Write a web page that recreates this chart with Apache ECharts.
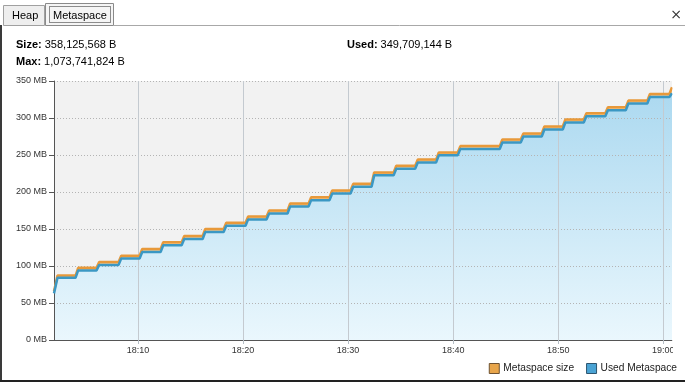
<!DOCTYPE html>
<html><head><meta charset="utf-8">
<script src="https://cdn.jsdelivr.net/npm/echarts@6/dist/echarts.min.js"></script>
<style>html,body{margin:0;padding:0;background:#fff;}#c{width:685px;height:382px;}</style>
</head><body><div id="c"></div>
<script>
// ---- data ----
const stepTimes = ['18:02:00','18:02:05','18:04:03','18:06:03','18:08:09','18:10:09','18:12:09','18:14:09','18:16:09','18:18:09','18:20:14','18:22:14','18:24:14','18:26:14','18:28:14','18:30:14','18:32:14','18:34:20','18:36:23','18:38:23','18:40:26','18:44:26','18:46:26','18:48:26','18:50:26','18:52:26','18:54:29','18:56:26','18:58:29','19:00:35'];
const sizeMB = [66, 87, 97.5, 105.5, 114, 123, 132, 140.5, 150, 158.5, 167, 175, 184.5, 193, 202, 211, 226.5, 235.5, 244, 253.5, 262, 271, 279, 288.5, 298, 306.5, 314.5, 323.5, 332.5, 341.5];
const usedMB = [63, 84, 94, 101.5, 110, 119, 128, 136.5, 146, 154.5, 163, 171, 180.5, 189, 198, 207, 222.5, 231.5, 240, 249.5, 258, 267, 275, 284.5, 294, 302.5, 310.5, 319.5, 328.5, 333.5];
const xMin = '18:02:00';
const xMax = '19:00:50';
const yMax = 350;
const yStep = 50;
const seriesNames = ['Metaspace size', 'Used Metaspace'];
const tabNames = ['Heap', 'Metaspace'];
const headerSize = '358,125,568 B';
const headerUsed = '349,709,144 B';
const headerMax = '1,073,741,824 B';

// ---- helpers ----
const RAMP = 15000;
function toTs(s){ const p = s.split(':').map(Number); return new Date(2024,0,1,p[0],p[1],p[2]).getTime(); }
function stepData(vals){
  const d = [[toTs(stepTimes[0]), vals[0]]];
  for (let i = 1; i < vals.length; i++) {
    const t = toTs(stepTimes[i]);
    d.push([t, vals[i-1]]);
    d.push([t + RAMP, vals[i]]);
  }
  const end = toTs(xMax);
  if (d[d.length-1][0] < end) d.push([end, vals[vals.length-1]]);
  return d;
}
function pad(n){ return (n < 10 ? '0' : '') + n; }

const FONT = 'Liberation Sans';
const chart = echarts.init(document.getElementById('c'));
const sizeColor = '#e8993a', usedColor = '#3b98c4';
const blueFill = new echarts.graphic.LinearGradient(0,0,0,1,[{offset:0,color:'#acd9f0'},{offset:1,color:'#eaf7fd'}]);

chart.setOption({
  animation: false,
  backgroundColor: '#ffffff',
  textStyle: { fontFamily: FONT },
  grid: { left: 54, right: 13, top: 81, bottom: 42, show: true, backgroundColor: '#f2f2f2', borderWidth: 0, borderColor: 'transparent' },
  legend: {
    right: 3, top: 358, itemWidth: 10, itemHeight: 10, itemGap: 12,
    icon: 'rect',
    textStyle: { fontSize: 10.2, color: '#222', fontFamily: FONT, padding: [0, 0, 0, -1] },
    data: [
      { name: seriesNames[0], itemStyle: { color: '#e8a54a', borderColor: '#6e5232', borderWidth: 1 } },
      { name: seriesNames[1], itemStyle: { color: '#4aa3d4', borderColor: '#2d5670', borderWidth: 1 } }
    ]
  },
  xAxis: {
    type: 'time', min: toTs(xMin), max: toTs(xMax), splitNumber: 5, z: 2,
    axisLine: { show: true, lineStyle: { color: '#555', width: 1 } },
    axisTick: { show: true, length: 4, lineStyle: { color: '#b4bcc4' } },
    axisLabel: { fontSize: 9, color: '#333', margin: 6, fontFamily: FONT,
      formatter: function(v){ const d = new Date(v); return pad(d.getHours()) + ':' + pad(d.getMinutes()); } },
    splitLine: { show: true, showMinLine: false, showMaxLine: false, lineStyle: { color: '#c4cad0', width: 1 } }
  },
  yAxis: {
    type: 'value', min: 0, max: yMax, interval: yStep, z: 2,
    axisLine: { show: true, lineStyle: { color: '#555', width: 1 } },
    axisTick: { show: true, length: 5, lineStyle: { color: '#555' } },
    axisLabel: { fontSize: 9, color: '#333', margin: 7, fontFamily: FONT, formatter: '{value} MB' },
    splitLine: { show: true, lineStyle: { color: '#b4b4b4', type: [1, 2], width: 1 } }
  },
  series: [
    { name: seriesNames[0], type: 'line', data: stepData(sizeMB), symbol: 'none', z: 1,
      lineStyle: { width: 0, opacity: 0 }, itemStyle: { color: '#e8a54a' },
      areaStyle: { color: '#f4cb93', opacity: 1 } },
    { name: seriesNames[1], type: 'line', data: stepData(usedMB), symbol: 'none', z: 1,
      lineStyle: { width: 0, opacity: 0 }, itemStyle: { color: '#4aa3d4' },
      areaStyle: { color: blueFill, opacity: 1 } },
    { name: seriesNames[0], type: 'line', data: stepData(sizeMB), symbol: 'none', z: 3,
      lineStyle: { color: sizeColor, width: 2.5 }, itemStyle: { color: '#e8a54a' } },
    { name: seriesNames[1], type: 'line', data: stepData(usedMB), symbol: 'none', z: 3,
      lineStyle: { color: usedColor, width: 2.5 }, itemStyle: { color: '#4aa3d4' } }
  ],
  graphic: [
    { type: 'line', z: 10, shape: { x1: 114, y1: 25.5, x2: 685, y2: 25.5 }, style: { stroke: '#a8a8a8', lineWidth: 1 } },
    { type: 'rect', z: 10, shape: { x: 3.5, y: 5.5, width: 41, height: 20 }, style: { fill: '#eeeeee', stroke: '#a0a0a0', lineWidth: 1 } },
    { type: 'text', z: 11, x: 12, y: 16, style: { text: tabNames[0], font: '11px "Liberation Sans"', fill: '#000', verticalAlign: 'middle' } },
    { type: 'rect', z: 10, shape: { x: 45.5, y: 3.5, width: 68, height: 22 }, style: { fill: '#f5f5f5', stroke: '#8a8a8a', lineWidth: 1 } },
    { type: 'rect', z: 11, shape: { x: 49.5, y: 6.5, width: 61, height: 16 }, style: { fill: 'none', stroke: '#222', lineWidth: 1, lineDash: [1, 1] } },
    { type: 'text', z: 12, x: 53, y: 15.5, style: { text: tabNames[1], font: '11px "Liberation Sans"', fill: '#000', verticalAlign: 'middle' } },
    { type: 'text', z: 12, x: 676, y: 15.5, style: { text: '×', font: '14px "DejaVu Sans"', fill: '#333', align: 'center', verticalAlign: 'middle' } },
    { type: 'rect', z: 10, shape: { x: 0, y: 25, width: 2, height: 357 }, style: { fill: '#3a3a3a' } },
    { type: 'rect', z: 10, shape: { x: 0, y: 380, width: 685, height: 2 }, style: { fill: '#222' } },
    { type: 'rect', z: 10, shape: { x: 673, y: 342, width: 12, height: 16 }, style: { fill: '#ffffff' } },
    { type: 'rect', z: 10, shape: { x: 672.5, y: 70, width: 12.5, height: 272 }, style: { fill: '#ffffff' } },
    { type: 'text', z: 12, x: 16, y: 45, style: { text: '{b|Size:} ' + headerSize, font: '11px "Liberation Sans"', fill: '#000', verticalAlign: 'middle',
        rich: { b: { fontWeight: 'bold', fontSize: 11, fontFamily: FONT, fill: '#000' } } } },
    { type: 'text', z: 12, x: 16, y: 62, style: { text: '{b|Max:} ' + headerMax, font: '11px "Liberation Sans"', fill: '#000', verticalAlign: 'middle',
        rich: { b: { fontWeight: 'bold', fontSize: 11, fontFamily: FONT, fill: '#000' } } } },
    { type: 'text', z: 12, x: 347, y: 45, style: { text: '{b|Used:} ' + headerUsed, font: '11px "Liberation Sans"', fill: '#000', verticalAlign: 'middle',
        rich: { b: { fontWeight: 'bold', fontSize: 11, fontFamily: FONT, fill: '#000' } } } }
  ]
});
</script>
</body></html>
